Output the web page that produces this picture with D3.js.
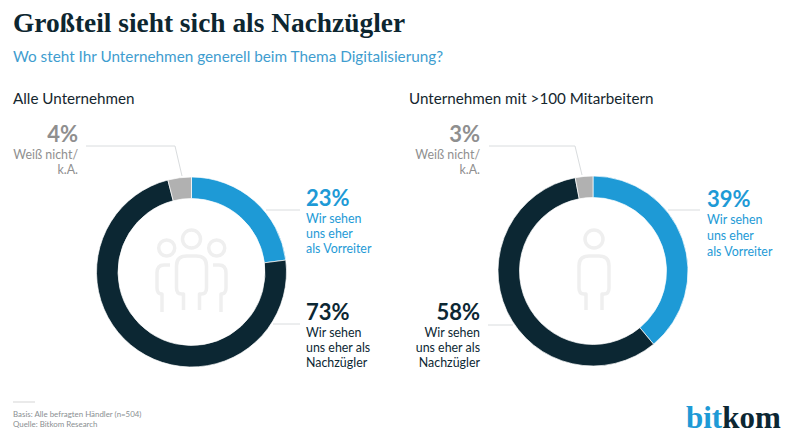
<!DOCTYPE html>
<meta charset="utf-8">
<style>
	html, body { margin: 0; padding: 0; background: #fff; }
	text { font-family: "Lato", sans-serif; }
	.title { font-family: "Liberation Serif", serif; font-weight: 700; font-size: 27.4px; fill: #0d2630; }
	.pct { font-weight: 700; font-size: 22px; }
	.lbl { font-size: 12.4px; }
	.lead { fill: none; stroke: #d9dcde; stroke-width: 1; }
	.icon { fill: none; stroke: #efefef; stroke-width: 3.5; stroke-linecap: butt; stroke-linejoin: round; }
</style>
<html>
<body>
<script src="https://d3js.org/d3.v7.min.js"></script>
<script>
	var width = 800;
	var height = 437;

	var categories = ["Vorreiter", "Nachzügler", "Weiß nicht"];
	var colors = ["#1e9ad6", "#0c2733", "#b1b1b1"];
	var textColors = ["#1e9ad6", "#0c2733", "#8f8f8f"];
	var valuesAll = [23, 73, 4];
	var values100 = [39, 58, 3];
	var labelsAll = [["Wir sehen", "uns eher", "als Vorreiter"], ["Wir sehen", "uns eher als", "Nachzügler"], ["Weiß nicht/", "k.A."]];
	var labels100 = labelsAll;
	var headings = ["Alle Unternehmen", "Unternehmen mit >100 Mitarbeitern"];

	var svg = d3.select("body").append("svg")
		.attr("width", width)
		.attr("height", height)
		.style("display", "block");

	svg.append("text").attr("class", "title").attr("x", 13).attr("y", 32).text("Großteil sieht sich als Nachzügler");
	svg.append("text").attr("x", 13).attr("y", 62).style("font-size", "15.3px").style("fill", "#3f9dcf")
		.text("Wo steht Ihr Unternehmen generell beim Thema Digitalisierung?");
	svg.append("text").attr("x", 13).attr("y", 104).style("font-size", "15.2px").style("fill", "#15262e").text(headings[0]);
	svg.append("text").attr("x", 409).attr("y", 104).style("font-size", "15.2px").style("fill", "#15262e").text(headings[1]);

	var pie = d3.pie().sort(null);
	var arc = d3.arc().innerRadius(73.5).outerRadius(95);

	function donut(cx, cy, values) {
		svg.append("g")
			.attr("transform", `translate(${cx},${cy})`)
			.selectAll("path")
			.data(pie(values))
			.enter().append("path")
			.attr("d", arc)
			.attr("fill", function(d, i) { return colors[i]; })
			.attr("stroke", "#fff")
			.attr("stroke-width", 0.7);
	}

	donut(191.5, 272, valuesAll);
	donut(593, 271, values100);

	// leader lines
	function lead(pts) {
		svg.append("path").attr("class", "lead").attr("d", d3.line()(pts));
	}
	lead([[86, 146], [175, 146], [182, 176]]);
	lead([[266, 210], [300, 210]]);
	lead([[273, 324], [300, 324]]);
	lead([[489, 146], [575, 146], [582, 175]]);
	lead([[668, 210], [700, 210]]);
	lead([[488, 325], [513, 325]]);

	// percent + label block
	function callout(x, y, anchor, i, values, lines, step) {
		var g = svg.append("g").attr("text-anchor", anchor).style("fill", textColors[i]);
		g.append("text").attr("class", "pct").attr("x", x).attr("y", y - 1).text(values[i] + "%");
		lines[i].forEach(function(t, k) {
			g.append("text").attr("class", "lbl").attr("x", x).attr("y", y + 16 + k * step).text(t);
		});
	}
	callout(306, 207, "start", 0, valuesAll, labelsAll, 15.1);
	callout(306, 321, "start", 1, valuesAll, labelsAll, 15.1);
	callout(78, 143, "end", 2, valuesAll, labelsAll, 15.1);
	callout(707, 208, "start", 0, values100, labels100, 16);
	callout(480, 321, "end", 1, values100, labels100, 15.1);
	callout(480, 143, "end", 2, values100, labels100, 15.1);

	// people icons
	function person(x, y) {
		var g = svg.append("g").attr("class", "icon").attr("transform", `translate(${x},${y})`);
		g.append("circle").attr("cx", 0).attr("cy", -32).attr("r", 9);
		g.append("path").attr("d", "M-8,39 V23 H-10 Q-15,23 -15,17 V-5 Q-15,-15 -5,-15 H5 Q15,-15 15,-5 V17 Q15,23 10,23 H8 V39");
	}
	person(191.5, 271);
	person(594, 271);

	var side = svg.append("g").attr("class", "icon");
	side.append("circle").attr("cx", 166.7).attr("cy", 248).attr("r", 8);
	side.append("circle").attr("cx", 216.7).attr("cy", 248).attr("r", 8);
	side.append("path").attr("d", "M170,265 H164 Q157,265 157,273 V288 Q157,294 162,294 V312");
	side.append("path").attr("d", "M213,265 H219 Q226,265 226,273 V288 Q226,294 221,294 V312");

	// footer
	svg.append("line").attr("x1", 13).attr("x2", 35).attr("y1", 402).attr("y2", 402).attr("stroke", "#d5d5d5");
	svg.append("text").attr("x", 13).attr("y", 417).style("font-size", "7.9px").style("fill", "#8a8f92").text("Basis: Alle befragten Händler (n=504)");
	svg.append("text").attr("x", 13).attr("y", 427).style("font-size", "7.9px").style("fill", "#8a8f92").text("Quelle: Bitkom Research");

	// logo
	var logo = svg.append("text").attr("x", 686).attr("y", 428)
		.style("font-family", "'Liberation Serif', serif").style("font-weight", 700).style("font-size", "31px");
	logo.append("tspan").style("fill", "#1e9ad6").text("bit");
	logo.append("tspan").style("fill", "#0c2733").text("kom");
</script>
</body>
</html>
